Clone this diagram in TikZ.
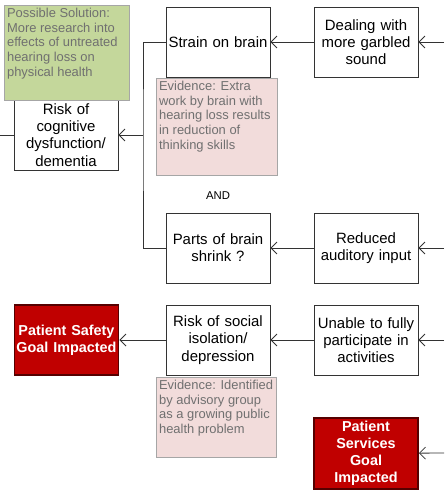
\documentclass[tikz,border=0pt]{standalone}
\usepackage{fontspec}
\setmainfont{Liberation Sans}
\usetikzlibrary{arrows.meta,positioning}
\definecolor{notegreen}{RGB}{196,215,155}
\definecolor{notepink}{RGB}{242,220,219}
\definecolor{notegray}{RGB}{112,112,112}
\definecolor{goalred}{RGB}{192,0,0}

\begin{document}
\begin{tikzpicture}[x=0.75pt,y=-0.75pt,
  box/.style={draw=black!80, line width=0.6pt, fill=white, minimum width=78pt, minimum height=52.5pt,
    text width=76pt, align=center, inner sep=1pt, font=\fontsize{11.2}{12.9}\selectfont},
  goal/.style={draw=goalred!45!black, line width=1.4pt, fill=goalred, text=white, minimum width=78pt,
    minimum height=53pt, text width=76pt, align=center, inner sep=1pt,
    font=\bfseries\fontsize{10.8}{12.8}\selectfont},
  note/.style={draw=black!35, line width=0.6pt, text=notegray, inner sep=2pt, anchor=north west,
    font=\fontsize{9.7}{11}\selectfont},
  line/.style={draw=black!80, line width=0.6pt},
  link/.style={line, -{Straight Barb[length=4.5pt,width=9pt]}}]
\useasboundingbox (0,0) rectangle (444,491);

% top row
\node[box] (strain) at (218,42) {Strain on brain};
\node[box] (garbled) at (366,42) {Dealing with\\more garbled\\sound};
\node[box] (cognitive) at (66,135) {Risk of\\cognitive\\dysfunction/\\dementia};
\node[note, fill=notepink] (ev1) at (156,78)
  {\parbox[c][68.75pt][t]{86.75pt}{Evidence: Extra\\work by brain with\\hearing loss results\\in reduction of\\thinking skills}};
\node[note, fill=notegreen] (sol) at (4,5)
  {\parbox[c][67.25pt][t]{89.75pt}{Possible Solution:\\More research into\\effects of untreated\\hearing loss on\\physical health}};

% middle row
\node[font=\fontsize{8.5}{10}\selectfont] (and) at (218,196) {AND};
\node[box] (shrink) at (218,248) {Parts of brain\\shrink ?};
\node[box] (auditory) at (366,248) {Reduced\\auditory input};

% bottom rows
\node[goal] (safety) at (66.5,340) {Patient Safety\\Goal Impacted};
\node[box] (social) at (218,340) {Risk of social\\isolation/\\depression};
\node[box] (unable) at (366,340) {Unable to fully\\participate in\\activities};
\node[note, fill=notepink] (ev2) at (156,377)
  {\parbox[c][56pt][t]{86pt}{Evidence: Identified\\by advisory group\\as a growing public\\health problem}};
\node[goal] (services) at (366,453.5) {Patient\\Services\\Goal\\Impacted};

% connectors
\coordinate (in1) at (444,42);
\coordinate (in2) at (444,248);
\coordinate (in3) at (444,340);
\coordinate (in4) at (444,453);
\coordinate (out1) at (0,135);
\coordinate (join) at (143,135);
\draw[link] (in1) -- (garbled);
\draw[link] (garbled) -- (strain);
\draw[link] (in2) -- (auditory);
\draw[link] (auditory) -- (shrink);
\draw[link] (in3) -- (unable);
\draw[link] (unable) -- (social);
\draw[link] (social) -- (safety);
\draw[link] (in4) -- (services);
\draw[line] (strain.west) -| (join) |- (shrink.west);
\draw[link] (join) -- (cognitive);
\draw[line] (cognitive) -- (out1);
\end{tikzpicture}
\end{document}
